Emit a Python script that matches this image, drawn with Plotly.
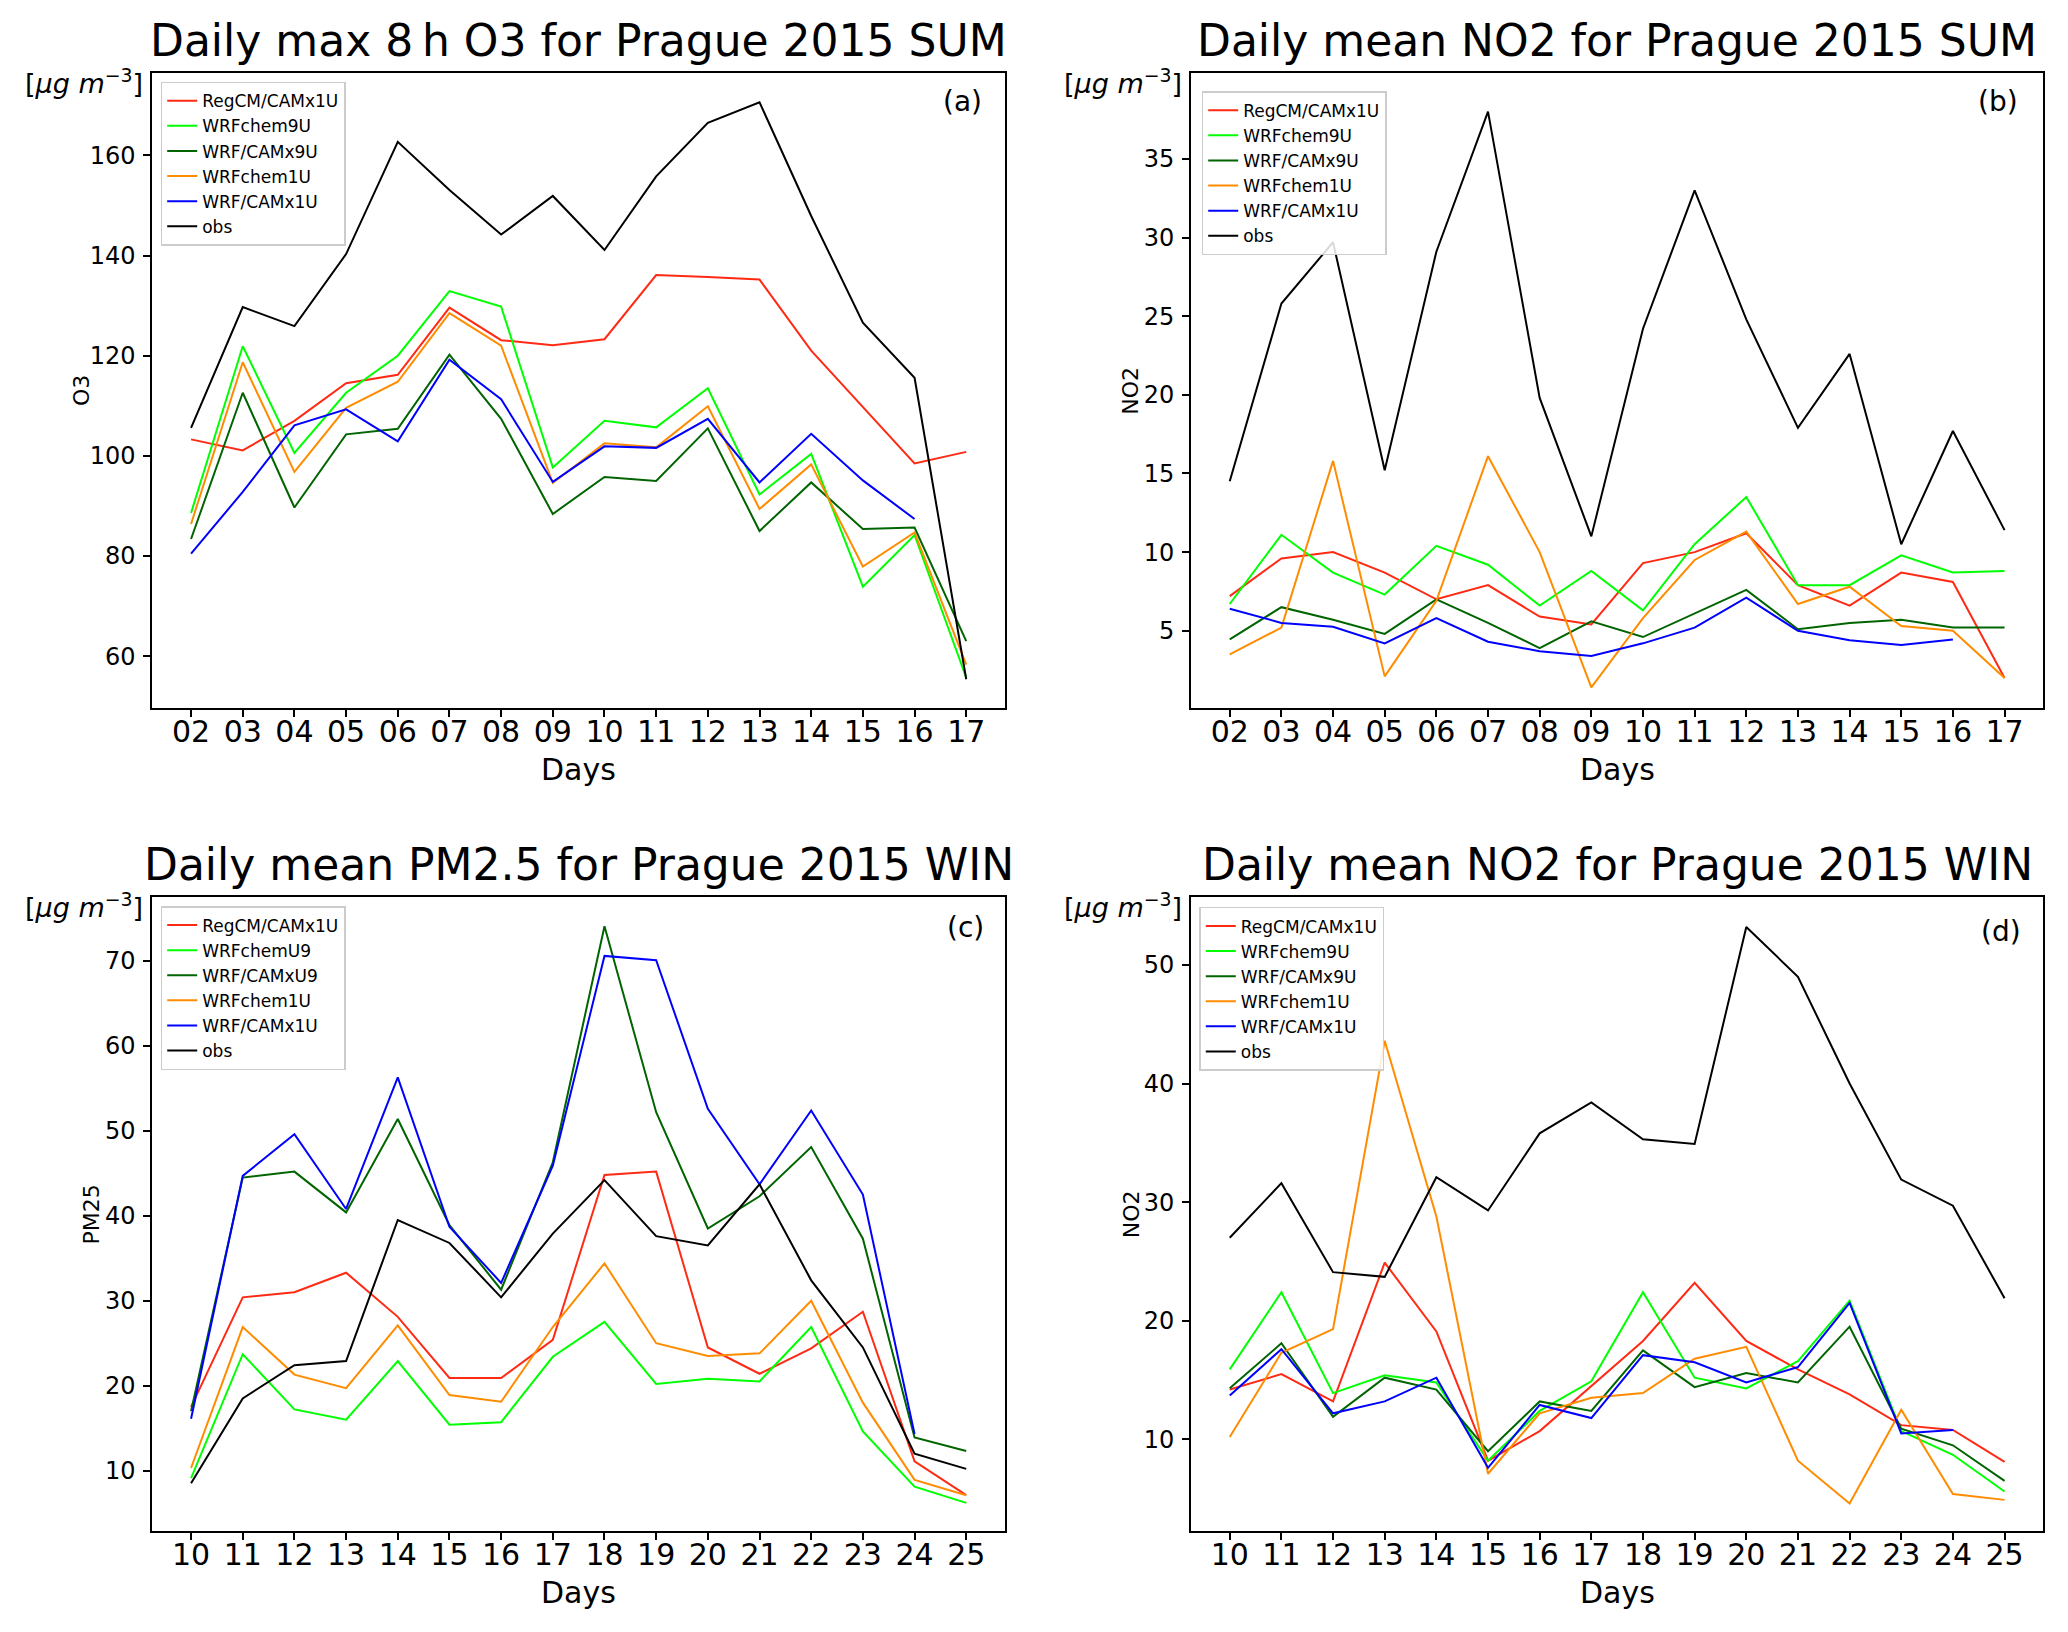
import plotly.graph_objects as go

W, H = 2068, 1632

# ---------------- data ----------------
days_sum = ['02', '03', '04', '05', '06', '07', '08', '09', '10', '11', '12', '13', '14', '15', '16', '17']
days_win = ['10', '11', '12', '13', '14', '15', '16', '17', '18', '19', '20', '21', '22', '23', '24', '25']

# (a) Daily max 8 h O3, summer
o3_regcm = [103.3, 101.1, 107.0, 114.5, 116.2, 129.6, 123.1, 122.1, 123.3, 136.1, 135.7, 135.2, 121.0, 109.8, 98.5, 100.8]
o3_wrfchem9 = [88.6, 121.9, 100.6, 112.6, 120.0, 132.9, 129.8, 97.7, 107.0, 105.7, 113.5, 92.3, 100.4, 73.9, 84.2, 55.7]
o3_wrfcamx9 = [83.4, 112.6, 89.7, 104.3, 105.4, 120.2, 107.4, 88.4, 95.8, 95.0, 105.5, 85.0, 94.7, 85.4, 85.7, 63.0]
o3_wrfchem1 = [86.4, 118.7, 96.8, 109.6, 114.8, 128.5, 122.0, 94.6, 102.5, 101.7, 109.9, 89.4, 98.3, 77.9, 84.7, 58.3]
o3_wrfcamx1 = [80.5, 92.8, 106.1, 109.3, 102.9, 119.2, 111.3, 94.8, 101.9, 101.6, 107.4, 94.7, 104.4, 95.1, 87.4, None]
o3_obs = [105.6, 129.7, 125.9, 140.3, 162.7, 153.1, 144.2, 151.9, 141.1, 155.8, 166.5, 170.6, 147.9, 126.6, 115.6, 55.4]

# (b) Daily mean NO2, summer
no2s_regcm = [7.2, 9.6, 10.0, 8.7, 7.0, 7.9, 5.9, 5.4, 9.3, 10.0, 11.2, 7.9, 6.6, 8.7, 8.1, 2.0]
no2s_wrfchem9 = [6.7, 11.1, 8.7, 7.3, 10.4, 9.2, 6.6, 8.8, 6.3, 10.5, 13.5, 7.9, 7.9, 9.8, 8.7, 8.8]
no2s_wrfcamx9 = [4.45, 6.5, 5.7, 4.8, 7.0, 5.5, 3.9, 5.6, 4.6, 6.1, 7.6, 5.1, 5.5, 5.7, 5.2, 5.2]
no2s_wrfchem1 = [3.5, 5.2, 15.8, 2.1, 6.9, 16.1, 10.0, 1.4, 5.8, 9.5, 11.3, 6.7, 7.8, 5.3, 5.0, 2.0]
no2s_wrfcamx1 = [6.4, 5.5, 5.25, 4.2, 5.8, 4.3, 3.7, 3.4, 4.2, 5.2, 7.1, 5.0, 4.4, 4.1, 4.45, None]
no2s_obs = [14.5, 25.8, 29.7, 15.2, 29.1, 38.0, 19.8, 11.0, 24.2, 33.0, 24.8, 17.9, 22.6, 10.5, 17.7, 11.4]

# (c) Daily mean PM2.5, winter
pm_regcm = [17.5, 30.4, 31.0, 33.3, 28.1, 20.9, 20.9, 25.4, 44.8, 45.2, 24.5, 21.4, 24.4, 28.7, 11.1, 7.1]
pm_wrfchem9 = [9.1, 23.7, 17.2, 16.0, 22.9, 15.4, 15.7, 23.4, 27.5, 20.2, 20.8, 20.5, 26.9, 14.6, 8.1, 6.2]
pm_wrfcamx9 = [17.0, 44.5, 45.2, 40.4, 51.4, 38.9, 31.3, 46.3, 74.1, 52.2, 38.5, 42.3, 48.1, 37.3, 13.9, 12.3]
pm_wrfchem1 = [10.3, 26.9, 21.3, 19.7, 27.1, 18.9, 18.1, 26.9, 34.4, 25.0, 23.5, 23.8, 30.0, 18.0, 8.9, 7.1]
pm_wrfcamx1 = [16.1, 44.7, 49.6, 40.8, 56.3, 38.7, 32.1, 45.9, 70.6, 70.1, 52.6, 43.7, 52.4, 42.5, 14.3, None]
pm_obs = [8.5, 18.5, 22.4, 22.9, 39.5, 36.8, 30.4, 37.9, 44.2, 37.6, 36.5, 43.7, 32.4, 24.5, 12.0, 10.2]

# (d) Daily mean NO2, winter
no2w_regcm = [14.2, 15.5, 13.2, 24.9, 19.1, 8.2, 10.7, 14.5, 18.3, 23.2, 18.3, 15.9, 13.8, 11.2, 10.8, 8.1]
no2w_wrfchem9 = [15.9, 22.4, 13.9, 15.4, 14.8, 8.2, 12.4, 14.9, 22.4, 15.2, 14.3, 16.6, 21.7, 10.7, 8.7, 5.6]
no2w_wrfcamx9 = [14.3, 18.1, 11.9, 15.2, 14.2, 9.0, 13.2, 12.4, 17.5, 14.4, 15.6, 14.8, 19.5, 10.9, 9.5, 6.5]
no2w_wrfchem1 = [10.2, 17.3, 19.3, 43.6, 28.8, 7.1, 12.2, 13.5, 13.9, 16.8, 17.8, 8.2, 4.6, 12.5, 5.4, 4.9]
no2w_wrfcamx1 = [13.7, 17.6, 12.2, 13.2, 15.2, 7.6, 12.9, 11.8, 17.1, 16.5, 14.8, 16.1, 21.5, 10.5, 10.8, None]
no2w_obs = [27.0, 31.6, 24.1, 23.7, 32.1, 29.3, 35.8, 38.4, 35.3, 34.9, 53.2, 49.0, 40.0, 31.9, 29.7, 21.9]

names_a = ['RegCM/CAMx1U', 'WRFchem9U', 'WRF/CAMx9U', 'WRFchem1U', 'WRF/CAMx1U', 'obs']
names_c = ['RegCM/CAMx1U', 'WRFchemU9', 'WRF/CAMxU9', 'WRFchem1U', 'WRF/CAMx1U', 'obs']
colors = ['#ff2a14', '#00ff00', '#006400', '#ff8c00', '#0000ff', '#000000']

FONT = 'DejaVu Sans'

panels = [
    dict(sfx='', legend='legend', days=days_sum, names=names_a,
         series=[o3_regcm, o3_wrfchem9, o3_wrfcamx9, o3_wrfchem1, o3_wrfcamx1, o3_obs],
         left=152.3, right=1005.0, top=73.0, bottom=708.3,
         yrange=[49.6, 176.45], ytick=[60, 80, 100, 120, 140, 160],
         title='Daily max 8\u2009h O3 for Prague 2015 SUM', ylab='O3', ylab_off=71,
         letter='(a)', letter_xy=(962.5, 101), leg_xy=(160.7, 81.7)),
    dict(sfx='2', legend='legend2', days=days_sum, names=names_a,
         series=[no2s_regcm, no2s_wrfchem9, no2s_wrfcamx9, no2s_wrfchem1, no2s_wrfcamx1, no2s_obs],
         left=1191.0, right=2043.3, top=73.0, bottom=708.3,
         yrange=[0.07, 40.46], ytick=[5, 10, 15, 20, 25, 30, 35],
         title='Daily mean NO2 for Prague 2015 SUM', ylab='NO2', ylab_off=60,
         letter='(b)', letter_xy=(1998, 101), leg_xy=(1201.7, 91.2)),
    dict(sfx='3', legend='legend3', days=days_win, names=names_c,
         series=[pm_regcm, pm_wrfchem9, pm_wrfcamx9, pm_wrfchem1, pm_wrfcamx1, pm_obs],
         left=152.3, right=1005.0, top=897.3, bottom=1531.3,
         yrange=[2.85, 77.5], ytick=[10, 20, 30, 40, 50, 60, 70],
         title='Daily mean PM2.5 for Prague 2015 WIN', ylab='PM25', ylab_off=61,
         letter='(c)', letter_xy=(965, 927.7), leg_xy=(160.7, 906.0)),
    dict(sfx='4', legend='legend4', days=days_win, names=names_a,
         series=[no2w_regcm, no2w_wrfchem9, no2w_wrfcamx9, no2w_wrfchem1, no2w_wrfcamx1, no2w_obs],
         left=1191.0, right=2043.3, top=897.3, bottom=1531.3,
         yrange=[2.25, 55.7], ytick=[10, 20, 30, 40, 50],
         title='Daily mean NO2 for Prague 2015 WIN', ylab='NO2', ylab_off=60,
         letter='(d)', letter_xy=(2001, 931.5), leg_xy=(1199.3, 906.9)),
]


def fx(x):
    return x / W


def fy(y):
    return 1 - y / H


fig = go.Figure()
annotations = []
layout = dict(
    width=W, height=H, autosize=False,
    margin=dict(l=0, r=0, t=0, b=0, pad=0),
    paper_bgcolor='white', plot_bgcolor='white',
    font=dict(family=FONT, color='black'),
)

for p in panels:
    xa = 'x' + p['sfx']
    ya = 'y' + p['sfx']
    for name, vals, col in zip(p['names'], p['series'], colors):
        fig.add_trace(go.Scatter(
            x=p['days'], y=vals, name=name, mode='lines',
            line=dict(color=col, width=2),
            xaxis=xa, yaxis=ya, legend=p['legend'],
            connectgaps=False,
        ))
    axis_common = dict(showline=True, mirror=True, linecolor='black', linewidth=2,
                       ticks='outside', ticklen=7, tickwidth=1.5, tickcolor='black',
                       showgrid=False, zeroline=False)
    layout['xaxis' + p['sfx']] = dict(
        axis_common, type='category', domain=[fx(p['left']), fx(p['right'])],
        anchor=ya, range=[-0.75, 15.75], tickfont=dict(size=30, family=FONT),
        ticklabelstandoff=-11,
    )
    layout['yaxis' + p['sfx']] = dict(
        axis_common, domain=[fy(p['bottom']), fy(p['top'])], anchor=xa,
        range=p['yrange'], tickvals=p['ytick'], tickfont=dict(size=24, family=FONT),
        ticklabelstandoff=3,
    )
    layout[p['legend']] = dict(
        x=fx(p['leg_xy'][0]), y=fy(p['leg_xy'][1]), xanchor='left', yanchor='top',
        xref='paper', yref='paper',
        bgcolor='rgba(255,255,255,0.85)', bordercolor='#cccccc', borderwidth=1.5,
        font=dict(size=17, family=FONT), tracegroupgap=0,
    )
    cx = (p['left'] + p['right']) / 2
    cy = (p['top'] + p['bottom']) / 2
    # title
    annotations.append(dict(text=p['title'], x=fx(cx), y=fy(p['top'] - 33), xref='paper', yref='paper',
                            xanchor='center', yanchor='middle', showarrow=False,
                            font=dict(size=44, family=FONT)))
    # x label
    annotations.append(dict(text='Days', x=fx(cx), y=fy(p['bottom'] + 61), xref='paper', yref='paper',
                            xanchor='center', yanchor='middle', showarrow=False,
                            font=dict(size=30, family=FONT)))
    # y label
    annotations.append(dict(text=p['ylab'], x=fx(p['left'] - p['ylab_off']), y=fy(cy), xref='paper', yref='paper',
                            xanchor='center', yanchor='middle', showarrow=False, textangle=-90,
                            font=dict(size=22, family=FONT)))
    # units
    annotations.append(dict(text='[<i>\u03bcg m</i><sup>\u22123</sup>]', x=fx(p['left'] - 7), y=fy(p['top'] + 8),
                            xref='paper', yref='paper', xanchor='right', yanchor='middle', showarrow=False,
                            font=dict(size=27, family=FONT)))
    # panel letter
    annotations.append(dict(text=p['letter'], x=fx(p['letter_xy'][0]), y=fy(p['letter_xy'][1]),
                            xref='paper', yref='paper', xanchor='center', yanchor='middle', showarrow=False,
                            font=dict(size=28, family=FONT)))

layout['annotations'] = annotations
fig.update_layout(**layout)

fig.write_html("out.html", config={'displayModeBar': False},
               post_script="document.body.style.margin='0px';")
